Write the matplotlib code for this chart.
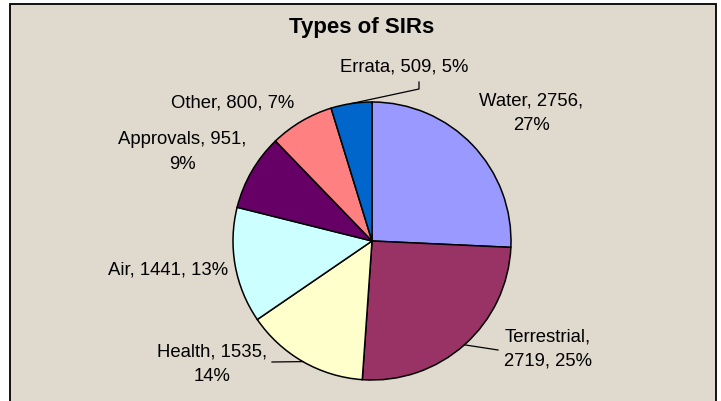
import numpy as np
import matplotlib
matplotlib.use("Agg")
import matplotlib.pyplot as plt
from matplotlib.patches import Rectangle

plt.rcParams['font.family'] = ['Liberation Sans', 'DejaVu Sans']

# data
cats = ['Water', 'Terrestrial', 'Health', 'Air', 'Approvals', 'Other', 'Errata']
counts = [2756, 2719, 1535, 1441, 951, 800, 509]
pct_labels = ['27%', '25%', '14%', '13%', '9%', '7%', '5%']
colors = ['#9999FF', '#993366', '#FFFFCC', '#CCFFFF', '#660066', '#FF8080', '#0066CC']

# label text as laid out in the picture (line breaks)
label_text = [
    'Water, 2756,\n27%',
    'Terrestrial,\n2719, 25%',
    'Health, 1535,\n14%',
    'Air, 1441, 13%',
    'Approvals, 951,\n9%',
    'Other, 800, 7%',
    'Errata, 509, 5%',
]
# label centres in pixels, and optional leader elbow points
label_px = [(531, 113), (548, 349), (212, 364), (168, 270), (182, 152), (233, 103), (404, 67)]
leader_px = {1: [(498, 351)], 2: [(272, 363)], 6: [(419, 90), (419, 83)]}

W, H = 721, 402
cx, cy, R = 372, 242, 139

fig = plt.figure(figsize=(W / 100, H / 100), dpi=100)
fig.patch.set_facecolor('white')
bg = Rectangle((10 / W, -0.02), 706 / W, 1.02 - 5 / H, transform=fig.transFigure,
               facecolor='#E0D9CE', edgecolor='black', linewidth=1.3, zorder=-5)
fig.patches.append(bg)

ax = fig.add_axes([(cx - R) / W, (H - cy - R) / H, 2 * R / W, 2 * R / H])
ax.set_zorder(2)

wedges, _ = ax.pie(counts, colors=colors, startangle=90, counterclock=False, radius=1,
                   wedgeprops=dict(edgecolor='black', linewidth=1.1))
ax.set_xlim(-1, 1)
ax.set_ylim(-1, 1)
ax.axis('off')

def px2d(p):
    return ((p[0] - cx) / R, (cy - p[1]) / R)

for i, w in enumerate(wedges):
    x, y = px2d(label_px[i])
    ax.text(x, y, label_text[i], ha='center', va='center', fontsize=13.3,
            linespacing=1.55, clip_on=False)
    if i in leader_px:
        mid = np.deg2rad((w.theta1 + w.theta2) / 2)
        pts = [(np.cos(mid), np.sin(mid))] + [px2d(p) for p in leader_px[i]]
        xs, ys = zip(*pts)
        ax.plot(xs, ys, color='black', linewidth=0.9, clip_on=False)

fig.text(362 / W, 1 - 27 / H, 'Types of SIRs', ha='center', va='center',
         fontsize=16, fontweight='bold', zorder=3)

fig.savefig('out.png', dpi=100)
